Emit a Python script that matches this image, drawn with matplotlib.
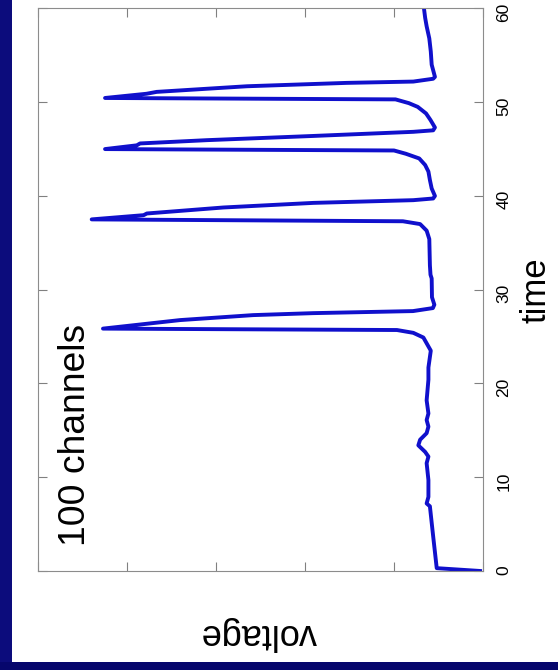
import matplotlib
matplotlib.use("Agg")
import matplotlib.pyplot as plt
from matplotlib.patches import Rectangle

plt.rcParams["font.family"] = ["Liberation Sans", "DejaVu Sans"]

# membrane voltage of the 100 channel model
time = [0.0, 0.3, 3.7, 6.9, 7.2, 7.9, 9.7, 11.5, 12.2, 12.7, 13.4, 14.0, 14.7,
        15.4, 16.1, 16.8, 18.2, 20.4, 21.7, 23.5, 24.9, 25.4, 25.7, 25.85,
        26.76, 27.29, 27.5, 27.72, 28.04, 28.4, 29.2, 31.2, 31.6, 32.6, 35.4,
        36.3, 37.0, 37.3, 37.5,
        37.95, 38.13, 38.77, 39.26, 39.55, 39.73, 40.0, 40.8, 41.7, 42.6, 43.3,
        44.0, 44.5, 44.85, 45.0,
        45.4, 45.6, 45.95, 46.4, 46.84, 47.0, 47.3, 48.1, 48.8, 49.5, 49.9,
        50.3, 50.45,
        50.9, 51.1, 51.7, 52.06, 52.2, 52.5, 52.7, 54.0, 55.4, 56.8, 58.1,
        59.0, 60.0]
voltage = [-99.0, -84.4, -83.2, -82.1, -81.0, -81.6, -81.6, -81.0, -81.6,
           -80.5, -78.2, -78.8, -81.0, -81.6, -81.0, -81.6, -81.0, -81.6,
           -81.6, -82.4, -79.9, -76.5, -71.0, 28.1,
           2.1, -22.5, -42.7, -76.4, -83.1, -83.6, -82.8, -82.7, -82.3, -82.1,
           -81.9, -81.0, -78.8, -73.0, 31.9,
           14.4, 13.3, -12.5, -42.8, -76.5, -83.2, -83.8, -82.7, -82.1, -81.6,
           -80.5, -78.5, -74.0, -70.0, 27.4,
           16.7, 15.6, -6.9, -42.8, -76.5, -83.2, -83.8, -82.3, -80.8, -78.0,
           -75.0, -70.5, 27.4,
           13.4, 10.0, -20.4, -54.0, -76.5, -83.2, -83.8, -82.7, -82.4, -81.9,
           -81.0, -80.5, -80.1]

time_ticks = [0, 10, 20, 30, 40, 50, 60]
volt_ticks = [-100, -70, -40, -10, 20, 50]

fig = plt.figure(figsize=(5.58, 6.70), dpi=100, facecolor="white")

# navy slide border (left and bottom)
fig.add_artist(Rectangle((0, 0), 12 / 558, 1, transform=fig.transFigure,
                         facecolor="#0c0c7c", edgecolor="none"))
fig.add_artist(Rectangle((0, 0), 1, 8 / 670, transform=fig.transFigure,
                         facecolor="#06066c", edgecolor="none"))

ax = fig.add_axes([0.0681, 0.1478, 0.7975, 0.8396])
ax.plot(voltage, time, color="#1010cc", linewidth=2.8, solid_joinstyle="round")

# plot is turned on its side: voltage grows to the left, time goes up
ax.set_xlim(50, -100)
ax.set_ylim(0, 60)
ax.set_xticks(volt_ticks)
ax.set_yticks(time_ticks)
ax.set_xticklabels([])

ax.tick_params(axis="both", direction="in", length=6.2, width=0.8,
               color="#808080", top=True, bottom=True, left=True, right=True)
ax.tick_params(axis="y", labelleft=False, labelright=True, labelrotation=90,
               labelsize=12.5, pad=9.5)
for s in ax.spines.values():
    s.set_color("#8c8c8c")
    s.set_linewidth(0.8)

ax.yaxis.set_label_position("right")
ax.set_ylabel("time", fontsize=25)
ax.yaxis.set_label_coords(1.0825, 0.5)

ax.set_xlabel("voltage", fontsize=26, rotation=180)
ax.xaxis.set_label_coords(0.495, -0.08)

ax.text(0.0838, 0.2418, "100 channels", transform=ax.transAxes, rotation=90,
        fontsize=26.8, ha="center", va="center")

fig.savefig("out.png", dpi=100, facecolor=fig.get_facecolor())
